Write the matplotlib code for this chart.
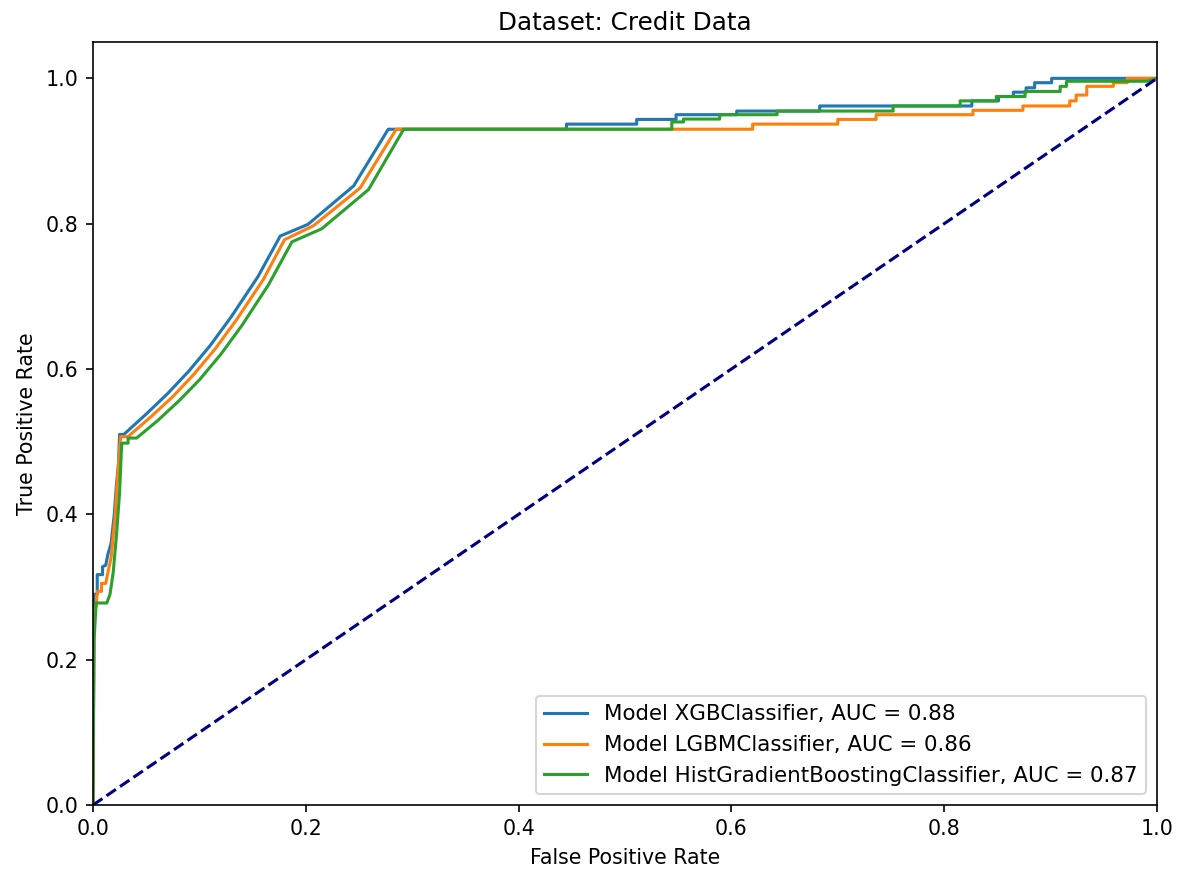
import matplotlib
matplotlib.use("Agg")
import matplotlib.pyplot as plt

# ROC points
xgb_fpr = [0, 0.001, 0.004, 0.004, 0.009, 0.009, 0.012, 0.014, 0.017, 0.020, 0.022, 0.024,
           0.025, 0.029, 0.05, 0.07, 0.09, 0.11, 0.13, 0.155, 0.176, 0.202, 0.245, 0.2775,
           0.445, 0.445, 0.511, 0.511, 0.548, 0.548, 0.605, 0.605, 0.683, 0.683, 0.826, 0.826,
           0.851, 0.851, 0.865, 0.865, 0.877, 0.877, 0.885, 0.885, 0.901, 0.901, 1.0]
xgb_tpr = [0, 0.29, 0.29, 0.317, 0.317, 0.328, 0.33, 0.345, 0.36, 0.40, 0.44, 0.47,
           0.51, 0.51, 0.538, 0.566, 0.597, 0.632, 0.672, 0.727, 0.783, 0.799, 0.852, 0.930,
           0.930, 0.937, 0.937, 0.9435, 0.9435, 0.950, 0.950, 0.955, 0.955, 0.962, 0.962, 0.969,
           0.969, 0.975, 0.975, 0.981, 0.981, 0.987, 0.987, 0.994, 0.994, 1.0, 1.0]

lgbm_fpr = [0, 0.001, 0.003, 0.004, 0.008, 0.008, 0.012, 0.014, 0.017, 0.019, 0.021, 0.023,
            0.026, 0.033, 0.055, 0.075, 0.095, 0.115, 0.135, 0.16, 0.180, 0.207, 0.251, 0.285,
            0.620, 0.620, 0.700, 0.700, 0.736, 0.736, 0.827, 0.827, 0.874, 0.874, 0.918, 0.918,
            0.924, 0.924, 0.934, 0.934, 0.959, 0.959, 0.972, 0.972, 1.0]
lgbm_tpr = [0, 0.27, 0.273, 0.294, 0.294, 0.305, 0.305, 0.32, 0.34, 0.37, 0.40, 0.45,
            0.507, 0.507, 0.535, 0.562, 0.593, 0.628, 0.668, 0.723, 0.778, 0.797, 0.849, 0.930,
            0.930, 0.937, 0.937, 0.9435, 0.9435, 0.950, 0.950, 0.956, 0.956, 0.962, 0.962, 0.969,
            0.969, 0.977, 0.977, 0.989, 0.989, 0.994, 0.994, 1.0, 1.0]

hgb_fpr = [0, 0.001, 0.003, 0.013, 0.016, 0.019, 0.022, 0.025, 0.027, 0.033, 0.033, 0.041,
           0.06, 0.08, 0.10, 0.12, 0.14, 0.165, 0.187, 0.215, 0.259, 0.292, 0.544, 0.544,
           0.555, 0.555, 0.589, 0.589, 0.643, 0.643, 0.752, 0.752, 0.815, 0.815, 0.849, 0.849,
           0.876, 0.876, 0.909, 0.909, 0.915, 0.915, 0.99, 1.0]
hgb_tpr = [0, 0.227, 0.278, 0.278, 0.29, 0.32, 0.37, 0.43, 0.498, 0.498, 0.505, 0.505,
           0.528, 0.555, 0.585, 0.620, 0.660, 0.716, 0.775, 0.793, 0.847, 0.930, 0.930, 0.940,
           0.940, 0.944, 0.944, 0.950, 0.950, 0.955, 0.955, 0.962, 0.962, 0.969, 0.969, 0.975,
           0.975, 0.982, 0.982, 0.989, 0.989, 0.996, 0.996, 1.0]

model_names = ["XGBClassifier", "LGBMClassifier", "HistGradientBoostingClassifier"]
auc_values = [0.88, 0.86, 0.87]

DPI = 148
fig = plt.figure(figsize=(1177 / DPI, 870 / DPI), dpi=DPI)
ax = fig.add_axes([0.079, 0.0747, 0.904, 0.877])

curves = [(xgb_fpr, xgb_tpr), (lgbm_fpr, lgbm_tpr), (hgb_fpr, hgb_tpr)]
for (fpr, tpr), name, auc in zip(curves, model_names, auc_values):
    ax.plot(fpr, tpr, lw=1.5, label=f"Model {name}, AUC = {auc:.2f}")

ax.plot([0, 1], [0, 1], color="navy", lw=1.5, linestyle="--")
ax.set_xlim(0.0, 1.0)
ax.set_ylim(0.0, 1.05)
ax.set_xlabel("False Positive Rate")
ax.set_ylabel("True Positive Rate")
ax.set_title("Dataset: Credit Data")
ax.legend(loc="lower right", fontsize=10.4)

fig.savefig("out.png", dpi=DPI)
